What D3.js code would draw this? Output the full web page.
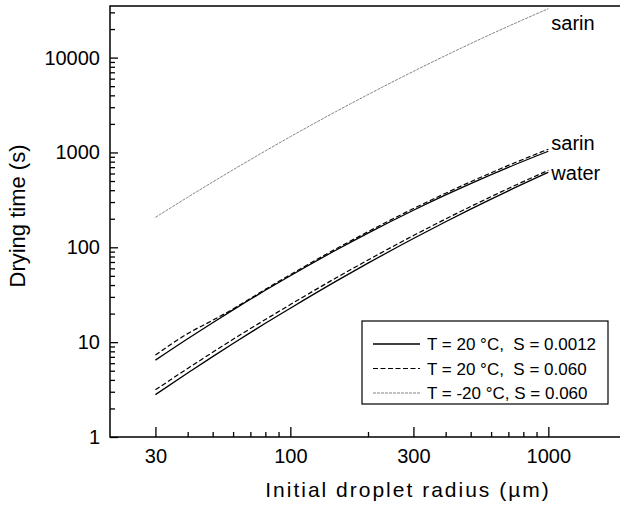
<!DOCTYPE html>
<meta charset="utf-8">
<style>
  body { margin: 0; background: #fff; }
  svg { font-family: "Liberation Sans", Arial, sans-serif; }
  .tick text { font-size: 20px; fill: #000; }
</style>
<svg width="620" height="512"></svg>
<script src="https://cdnjs.cloudflare.com/ajax/libs/d3/7.8.5/d3.min.js"></script>
<script>
  // initial droplet radius (um)
  var radius = [30, 40, 50, 60, 70, 80, 100, 150, 200, 300, 400, 500, 700, 1000];
  // drying times (s)
  var sarinWarmLow = [6.46, 10.86, 16.04, 21.9, 28.3, 35.2, 50.2, 93.1, 141.1, 245.9, 356.6, 469.7, 696.8, 1030];
  var sarinWarmHigh = [7.3, 12.3, 17.0, 22.4, 28.9, 36.0, 51.5, 96, 146, 256, 372, 491, 730, 1082];
  var sarinCold = [207, 337, 488, 657, 840, 1037, 1466, 2691, 4076, 7161, 10515, 14040, 21395, 32790];
  var waterLow = [2.8, 4.73, 7.04, 9.67, 12.6, 15.8, 22.8, 43.7, 68.0, 123.8, 186, 252.5, 393.8, 617];
  var waterHigh = [3.14, 5.28, 7.82, 10.7, 13.9, 17.3, 24.9, 47.4, 73.4, 133, 199, 269, 417, 648];

  var xMajor = [30, 100, 300, 1000];
  var xMinor = [40, 50, 60, 70, 80, 90, 200, 400, 500, 600, 700, 800, 900];
  var yMajor = [1, 10, 100, 1000, 10000];
  var yMinor = [];
  [1, 10, 100, 1000, 10000].forEach(function(d) {
    [2, 3, 4, 5, 6, 7, 8, 9].forEach(function(m) { if (d * m < 35000) yMinor.push(d * m); });
  });

  var legendLabels = ["T = 20 \u00b0C,  S = 0.0012", "T = 20 \u00b0C,  S = 0.060", "T = -20 \u00b0C, S = 0.060"];

  var svg = d3.select("svg");
  var plotLeft = 110, plotBottom = 437, plotTop = 6;

  var x = d3.scaleLog().domain([20, 2000]).range([plotLeft, 626]);
  var y = d3.scaleLog().domain([1, 35000]).range([plotBottom, plotTop]);

  // ticks (pointing inward)
  svg.append("g")
    .attr("transform", "translate(" + plotLeft + ",0)")
    .call(d3.axisLeft(y).tickValues(yMajor).tickSizeInner(-8).tickSizeOuter(0).tickPadding(10)
      .tickFormat(d3.format("d")))
    .call(function(g) { g.select(".domain").remove(); });
  svg.append("g")
    .attr("transform", "translate(" + plotLeft + ",0)")
    .call(d3.axisLeft(y).tickValues(yMinor).tickSizeInner(-5).tickSizeOuter(0).tickFormat(""))
    .call(function(g) { g.select(".domain").remove(); });

  svg.append("g")
    .attr("transform", "translate(0," + plotBottom + ")")
    .call(d3.axisBottom(x).tickValues(xMajor).tickSizeInner(-10).tickSizeOuter(0).tickPadding(12)
      .tickFormat(d3.format("d")))
    .call(function(g) { g.select(".domain").remove(); });
  svg.append("g")
    .attr("transform", "translate(0," + plotBottom + ")")
    .call(d3.axisBottom(x).tickValues(xMinor).tickSizeInner(-5).tickSizeOuter(0).tickFormat(""))
    .call(function(g) { g.select(".domain").remove(); });

  svg.selectAll(".tick line").attr("stroke", "#000").attr("stroke-width", 1.3);

  // frame: top, left, bottom
  svg.append("path")
    .attr("d", "M620," + plotTop + "H" + plotLeft + "V" + plotBottom + "H620")
    .attr("fill", "none").attr("stroke", "#000").attr("stroke-width", 1.5);

  var line = d3.line()
    .x(function(d) { return x(d[0]); })
    .y(function(d) { return y(d[1]); })
    .curve(d3.curveMonotoneX);

  var styles = [
    { stroke: "#000", width: 1.3, dash: null },
    { stroke: "#000", width: 1.2, dash: "5,2.5" },
    { stroke: "#777", width: 0.9, dash: "3,1" }
  ];

  var series = [
    { v: sarinWarmLow, s: 0 }, { v: waterLow, s: 0 },
    { v: sarinWarmHigh, s: 1 }, { v: waterHigh, s: 1 },
    { v: sarinCold, s: 2 }
  ];

  series.forEach(function(d) {
    var st = styles[d.s];
    svg.append("path")
      .datum(d3.zip(radius, d.v))
      .attr("d", line)
      .attr("fill", "none")
      .attr("stroke", st.stroke)
      .attr("stroke-width", st.width)
      .attr("stroke-dasharray", st.dash);
  });

  // curve labels
  var lx = x(1000) + 3;
  svg.append("text").attr("x", lx).attr("y", 30).attr("font-size", 20).text("sarin");
  svg.append("text").attr("x", lx).attr("y", 150).attr("font-size", 20).text("sarin");
  svg.append("text").attr("x", lx).attr("y", 180).attr("font-size", 20).text("water");

  // legend
  var lg = svg.append("g");
  lg.append("rect")
    .attr("x", 362).attr("y", 321).attr("width", 246).attr("height", 83)
    .attr("fill", "#fff").attr("stroke", "#000").attr("stroke-width", 1.2);
  legendLabels.forEach(function(t, i) {
    var yy = 344 + i * 24.5;
    var st = styles[i];
    lg.append("line")
      .attr("x1", 373).attr("x2", 420).attr("y1", yy).attr("y2", yy)
      .attr("stroke", st.stroke).attr("stroke-width", st.width).attr("stroke-dasharray", st.dash);
    lg.append("text")
      .attr("x", 427).attr("y", yy + 6)
      .attr("font-size", 17)
      .style("white-space", "pre")
      .text(t);
  });

  // axis titles
  svg.append("text")
    .attr("x", 408).attr("y", 497)
    .attr("text-anchor", "middle")
    .attr("font-size", 21)
    .style("letter-spacing", "2px")
    .text("Initial droplet radius (\u00b5m)");

  svg.append("text")
    .attr("transform", "translate(25,216) rotate(-90)")
    .attr("text-anchor", "middle")
    .attr("font-size", 22)
    .text("Drying time (s)");
</script>
